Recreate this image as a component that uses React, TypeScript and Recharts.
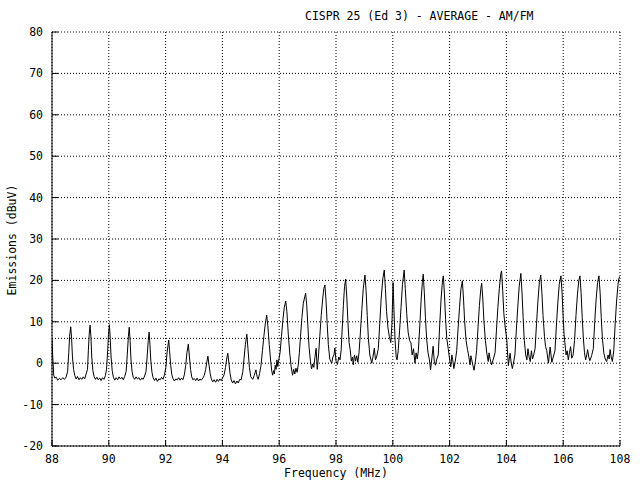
import React from 'react';
import {
  LineChart,
  Line,
  XAxis,
  YAxis,
  CartesianGrid,
  ReferenceLine,
} from 'recharts';

const sweepLow: [number, number][] = [
  [88.0, 6.0], [88.03, 1.0], [88.06, -2.9], [88.1, -3.6], [88.15, -3.4], [88.2, -4.1], [88.26, -3.7],
  [88.32, -4.0], [88.38, -3.5], [88.44, -3.9], [88.5, -3.3], [88.55, -2.0], [88.59, 2.5], [88.62, 6.5],
  [88.66, 8.8], [88.69, 6.0], [88.72, 1.5], [88.76, -1.5], [88.8, -2.9],
  [88.85, -3.8], [88.9, -3.2], [88.95, -4.0], [89.0, -3.5], [89.05, -3.9], [89.1, -3.3], [89.15, -3.8],
  [89.2, -2.6], [89.25, -1.5], [89.28, 3.0], [89.31, 7.0], [89.34, 9.2], [89.37, 6.5], [89.4, 1.5],
  [89.44, -1.8], [89.48, -3.2],
  [89.53, -3.9], [89.58, -3.4], [89.63, -4.0], [89.68, -3.6], [89.73, -4.2], [89.78, -3.5], [89.83, -3.9],
  [89.88, -3.0], [89.92, -1.5], [89.96, 3.0], [89.99, 7.0], [90.02, 9.3], [90.05, 6.0], [90.08, 1.5],
  [90.12, -1.8], [90.16, -3.4],
  [90.21, -4.1], [90.26, -3.5], [90.31, -4.0], [90.36, -3.3], [90.41, -3.8], [90.46, -3.4], [90.51, -4.0],
  [90.56, -3.2], [90.61, -2.0], [90.65, 2.0], [90.69, 6.5], [90.72, 8.7], [90.75, 5.5], [90.78, 1.0],
  [90.82, -2.0], [90.86, -3.4],
  [90.91, -3.9], [90.96, -3.3], [91.01, -3.8], [91.06, -3.5], [91.11, -4.1], [91.16, -3.6], [91.21, -3.9],
  [91.26, -3.1], [91.31, -2.0], [91.35, 1.5], [91.39, 5.5], [91.42, 7.5], [91.45, 4.5], [91.48, 0.5],
  [91.52, -2.2], [91.56, -3.5],
  [91.61, -4.2], [91.66, -3.6], [91.71, -4.4], [91.76, -3.8], [91.81, -4.0], [91.86, -3.4], [91.91, -3.9],
  [91.96, -2.8], [92.01, -1.0], [92.05, 2.5], [92.11, 5.6], [92.14, 3.0], [92.18, -0.5], [92.22, -2.8],
  [92.26, -3.7],
  [92.31, -4.3], [92.36, -3.8], [92.41, -4.0], [92.46, -3.5], [92.51, -4.1], [92.56, -3.6], [92.61, -4.0],
  [92.66, -2.8], [92.71, -0.5], [92.75, 2.5], [92.8, 4.6], [92.84, 1.5], [92.88, -1.5], [92.92, -3.3],
  [92.96, -4.0],
  [93.01, -3.7], [93.06, -4.2], [93.11, -3.6], [93.16, -4.3], [93.21, -3.8], [93.26, -4.1], [93.31, -3.6],
  [93.36, -3.0], [93.41, -1.5], [93.45, 0.2], [93.49, 1.7], [93.53, -0.5], [93.57, -2.5], [93.61, -3.8],
  [93.66, -4.5],
  [93.71, -4.0], [93.76, -4.6], [93.81, -3.9], [93.86, -4.4], [93.91, -3.8], [93.96, -4.2], [94.01, -3.5],
  [94.06, -2.8], [94.11, -1.0], [94.15, 1.0], [94.19, 2.4], [94.23, 0.0], [94.27, -2.5], [94.31, -4.0],
  [94.36, -4.8], [94.41, -4.2], [94.46, -5.0], [94.51, -4.3], [94.56, -4.8], [94.61, -3.9], [94.66, -4.0],
  [94.72, -2.0], [94.76, 1.0], [94.81, 4.5],
];

const sweepRise: [number, number][] = [
  [94.86, 7.0], [94.9, 3.5], [94.95, -1.0], [95.0, -3.3], [95.07, -3.9], [95.12, -3.0], [95.18, -1.6],
  [95.22, -3.2], [95.26, -3.9], [95.31, -2.5], [95.36, -0.5], [95.41, 3.0], [95.46, 6.5], [95.51, 9.5],
  [95.56, 11.6], [95.6, 9.0], [95.65, 4.5], [95.7, 0.5], [95.74, -2.0], [95.77, -2.9], [95.8, -1.8],
  [95.83, -2.6], [95.86, -0.5], [95.89, -1.5], [95.92, 0.8], [95.95, -0.8], [95.99, 1.0],
  [96.03, 2.5], [96.08, 6.5], [96.13, 10.5], [96.18, 13.5], [96.23, 15.0], [96.27, 12.5], [96.32, 7.0],
  [96.37, 2.5], [96.42, -0.8], [96.47, -2.9], [96.51, -1.5], [96.55, -2.6], [96.59, -1.2], [96.63, -2.2],
  [96.67, -0.5], [96.71, 2.5], [96.75, 6.5], [96.8, 11.0], [96.85, 14.5], [96.93, 16.9],
  [96.97, 14.0], [97.01, 9.0], [97.05, 4.0], [97.1, 0.5], [97.14, -1.4], [97.18, -0.2], [97.22, -1.0],
  [97.26, 1.5], [97.3, 3.6], [97.34, -1.5], [97.38, 1.5], [97.43, 6.5], [97.48, 11.5], [97.53, 15.5],
  [97.57, 18.0], [97.61, 18.9],
  [97.65, 15.0], [97.69, 9.5], [97.73, 4.5], [97.78, 1.0], [97.85, 0.0], [97.89, 1.5], [97.93, 2.0],
  [97.96, 3.7], [98.0, 0.5], [98.05, -0.3], [98.1, 1.5], [98.14, 0.8], [98.18, 3.0], [98.22, 8.5],
  [98.26, 14.0], [98.3, 18.5],
];

const sweepMid: [number, number][] = [
  [98.34, 20.3], [98.38, 16.0], [98.42, 10.0], [98.46, 5.0], [98.5, 3.3], [98.54, 0.5], [98.58, 1.5],
  [98.61, -0.4], [98.65, 2.0], [98.69, 0.5], [98.73, 1.8], [98.77, 0.2], [98.81, 2.5], [98.86, 7.5],
  [98.91, 13.0], [98.96, 18.0], [99.02, 21.3],
  [99.06, 17.5], [99.1, 11.5], [99.14, 6.0], [99.19, 2.0], [99.26, 0.0], [99.3, 1.5], [99.35, 3.6],
  [99.39, 0.8], [99.43, 1.5], [99.49, 3.5], [99.54, 9.5], [99.59, 15.5], [99.65, 20.5], [99.7, 22.5],
  [99.74, 18.0], [99.78, 12.5], [99.83, 8.5], [99.88, 6.4], [99.93, 5.0], [99.97, 9.5], [100.01, 19.5],
  [100.04, 13.0], [100.08, 5.5], [100.12, 1.5], [100.15, 0.8], [100.19, 3.0], [100.24, 8.0],
  [100.29, 13.5], [100.34, 19.0], [100.4, 22.5],
  [100.44, 18.0], [100.49, 12.0], [100.54, 7.5], [100.59, 5.5], [100.64, 4.9], [100.68, 2.0],
  [100.73, 3.5], [100.78, 0.0], [100.82, 2.5], [100.86, 1.0], [100.9, 3.0], [100.95, 9.0], [101.0, 15.5],
  [101.04, 19.5], [101.07, 21.5],
  [101.11, 17.0], [101.15, 11.0], [101.19, 6.0], [101.24, 2.5], [101.29, 0.8], [101.33, -1.6],
  [101.38, 1.5], [101.42, 4.1], [101.46, 0.5], [101.5, -0.5], [101.55, 1.0], [101.6, 2.0], [101.65, 9.0],
  [101.7, 15.5], [101.75, 20.0],
];

const sweepHigh: [number, number][] = [
  [101.78, 21.1], [101.82, 16.5], [101.86, 10.5], [101.9, 6.0], [101.95, 3.6], [102.0, 1.0],
  [102.04, -0.9], [102.08, 2.0], [102.11, 0.8], [102.15, -1.3], [102.2, 0.5], [102.25, 3.0],
  [102.3, 8.5], [102.35, 13.5], [102.4, 18.0], [102.45, 19.9],
  [102.49, 15.5], [102.53, 10.0], [102.58, 5.5], [102.63, 3.3], [102.68, 1.5], [102.72, -0.4],
  [102.75, 1.8], [102.78, 0.8], [102.82, -0.5], [102.86, -1.7], [102.91, 0.5], [102.95, 3.0],
  [103.0, 8.5], [103.05, 14.0], [103.1, 18.0], [103.13, 19.3],
  [103.17, 15.5], [103.21, 10.0], [103.26, 5.5], [103.31, 2.4], [103.36, 0.4], [103.39, 2.5],
  [103.42, 1.2], [103.48, -0.4], [103.54, 1.0], [103.6, 2.5], [103.65, 8.0], [103.7, 13.5],
  [103.75, 18.0], [103.8, 21.5], [103.83, 22.3],
  [103.87, 17.5], [103.91, 12.0], [103.96, 8.5], [104.01, 6.0], [104.07, -0.6], [104.1, 1.0],
  [104.13, 2.4], [104.17, 0.0], [104.21, -1.3], [104.26, 0.5], [104.3, 2.0], [104.35, 8.0],
  [104.4, 13.5], [104.45, 18.5], [104.51, 21.7],
  [104.55, 17.0], [104.59, 11.0], [104.63, 5.5], [104.68, 2.0], [104.72, 0.8], [104.76, 3.5],
  [104.8, 1.5], [104.84, 0.4], [104.88, 3.0], [104.92, 1.0], [104.96, 2.0], [105.01, 3.5], [105.06, 9.5],
  [105.11, 15.0], [105.16, 19.5], [105.21, 21.3],
  [105.25, 17.0], [105.29, 11.5], [105.34, 6.5], [105.38, 4.0], [105.42, 3.1], [105.48, 0.0],
  [105.54, 3.9], [105.6, 0.2], [105.65, 1.5], [105.71, 3.0], [105.76, 9.0], [105.81, 14.5],
  [105.86, 19.0], [105.92, 21.1],
  [105.96, 17.0], [106.0, 11.0], [106.03, 7.0], [106.06, 4.9], [106.1, 2.0], [106.14, 3.0],
  [106.18, 0.8], [106.22, 2.5], [106.26, 4.0], [106.3, 1.2], [106.35, 2.0], [106.4, 5.5], [106.45, 11.5],
  [106.5, 16.5], [106.55, 20.0], [106.59, 21.1],
  [106.63, 17.0], [106.67, 11.0], [106.71, 6.0], [106.75, 2.5], [106.79, 0.8], [106.83, 2.0],
  [106.86, 3.3], [106.9, 1.5], [106.94, 0.6], [107.0, 1.8], [107.06, 3.5], [107.11, 10.0],
  [107.16, 15.5], [107.21, 19.5], [107.26, 21.1],
  [107.3, 17.0], [107.34, 11.0], [107.38, 6.0], [107.43, 2.5], [107.48, 1.0], [107.53, 0.4],
  [107.58, 2.0], [107.62, 1.0], [107.65, 3.3], [107.69, 1.5], [107.73, 0.4], [107.78, 3.0],
  [107.83, 9.5], [107.88, 15.0], [107.93, 19.0], [107.96, 20.5], [108.0, 21.0],
];

const freqTicks = [88, 90, 92, 94, 96, 98, 100, 102, 104, 106, 108];
const levelTicks = [-20, -10, 0, 10, 20, 30, 40, 50, 60, 70, 80];
const limitLevel = 6;

const trace = [...sweepLow, ...sweepRise, ...sweepMid, ...sweepHigh].map(([f, v]) => ({
  freq: f,
  level: v,
}));

const FONT = '"DejaVu Sans Mono", monospace';
const tickStyle = { fontFamily: FONT, fontSize: 11.5, fill: '#000' };

export default function App() {
  return (
    <div
      style={{
        position: 'absolute',
        left: 0,
        top: 0,
        width: 640,
        height: 480,
        background: '#fff',
        fontFamily: FONT,
        fontSize: 11.5,
        color: '#000',
      }}
    >
      <LineChart
        width={640}
        height={480}
        data={trace}
        margin={{ top: 32, right: 20, left: 0, bottom: 0 }}
      >
        <CartesianGrid stroke="#000" strokeDasharray="1 2" />
        <XAxis
          dataKey="freq"
          type="number"
          domain={[88, 108]}
          ticks={freqTicks}
          interval={0}
          height={34}
          tickSize={-6}
          tickMargin={15}
          stroke="#000"
          tick={tickStyle}
          allowDataOverflow
        />
        <XAxis
          xAxisId="top"
          orientation="top"
          type="number"
          domain={[88, 108]}
          ticks={freqTicks}
          interval={0}
          height={0}
          tickSize={-6}
          tick={false}
          stroke="#000"
        />
        <YAxis
          type="number"
          domain={[-20, 80]}
          ticks={levelTicks}
          interval={0}
          width={52}
          tickSize={-6}
          tickMargin={15}
          stroke="#000"
          tick={tickStyle}
          allowDataOverflow
        />
        <YAxis
          yAxisId="right"
          orientation="right"
          type="number"
          domain={[-20, 80]}
          ticks={levelTicks}
          interval={0}
          width={0}
          tickSize={-6}
          tick={false}
          stroke="#000"
        />
        <ReferenceLine y={limitLevel} stroke="#000" strokeDasharray="1 2" />
        <Line
          type="linear"
          dataKey="level"
          stroke="#000"
          strokeWidth={1}
          dot={false}
          isAnimationActive={false}
        />
      </LineChart>
      <div style={{ position: 'absolute', left: 305, top: 9, whiteSpace: 'pre' }}>
        CISPR 25 (Ed 3) - AVERAGE - AM/FM
      </div>
      <div
        style={{
          position: 'absolute',
          left: 12,
          top: 240,
          whiteSpace: 'pre',
          transform: 'translate(-50%, -50%) rotate(-90deg)',
        }}
      >
        Emissions (dBuV)
      </div>
      <div
        style={{
          position: 'absolute',
          left: 336,
          top: 473,
          whiteSpace: 'pre',
          transform: 'translate(-50%, -50%)',
        }}
      >
        Frequency (MHz)
      </div>
    </div>
  );
}
